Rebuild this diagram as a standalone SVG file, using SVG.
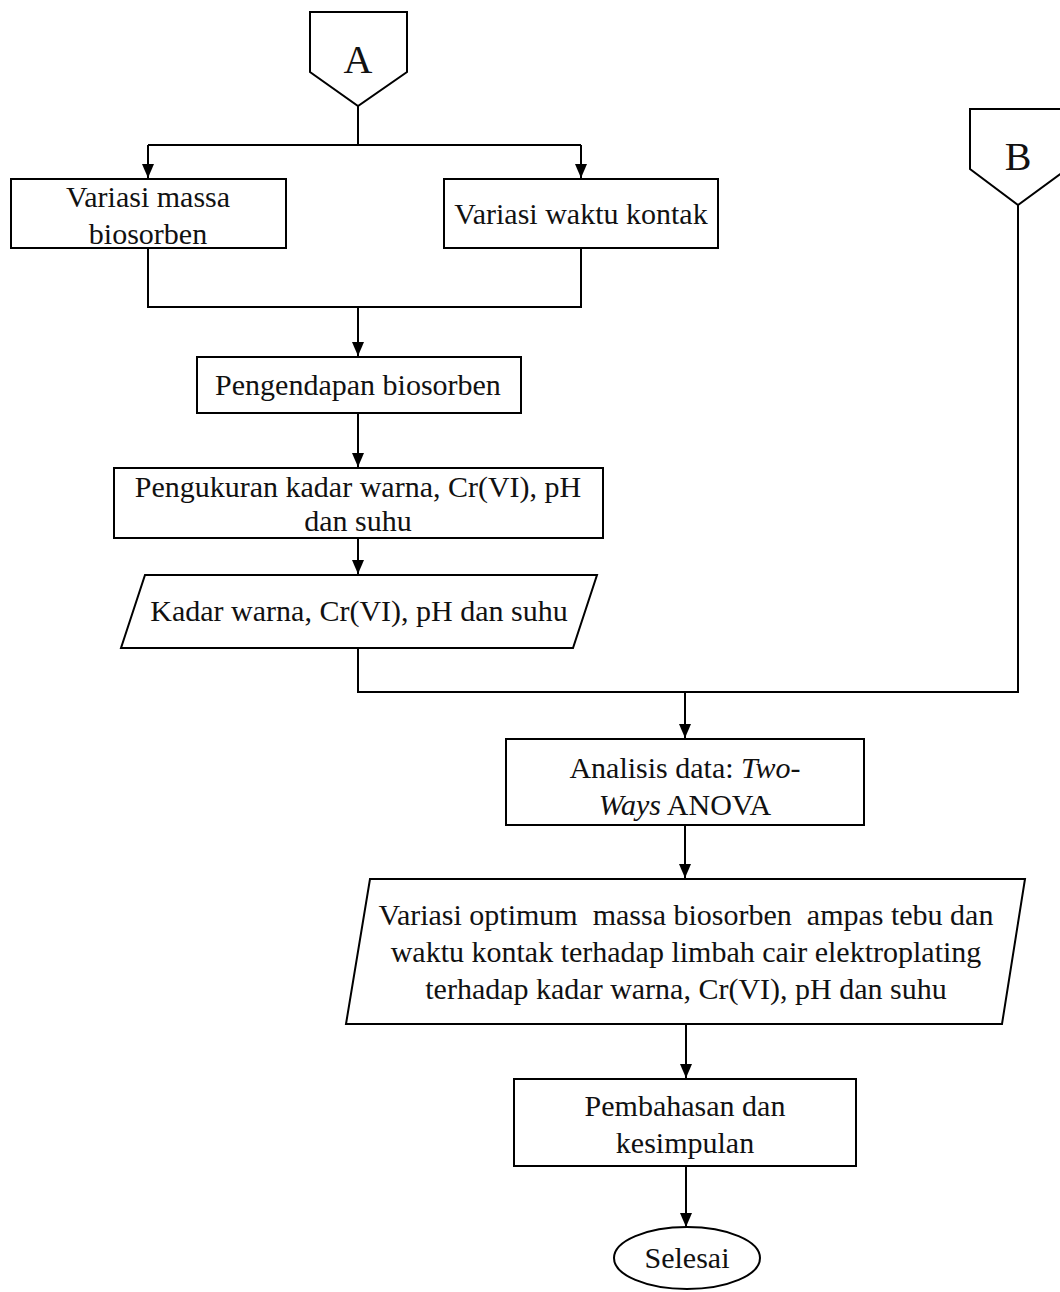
<svg xmlns="http://www.w3.org/2000/svg" width="1060" height="1292" viewBox="0 0 1060 1292">
<style>
.s{fill:#fff;stroke:#000;stroke-width:2}
.c{fill:none;stroke:#000;stroke-width:2}
text{font-family:"Liberation Serif","Times New Roman",serif;font-size:30px;fill:#111;text-anchor:middle}
.big{font-size:40px}
</style>
<defs>
<marker id="ah" viewBox="0 0 14 12" refX="14" refY="6" markerWidth="14" markerHeight="12" markerUnits="userSpaceOnUse" orient="auto">
<path d="M0,0 L14,6 L0,12 Z" fill="#000"/>
</marker>
</defs>
<rect width="1060" height="1292" fill="#fff"/>
<g id="connectors">
<path class="c" d="M358,106 V145"/>
<path class="c" d="M148,145 H581"/>
<path class="c" d="M148,145 V178" marker-end="url(#ah)"/>
<path class="c" d="M581,145 V178" marker-end="url(#ah)"/>
<path class="c" d="M148,248 V307 H581 V248"/>
<path class="c" d="M358,307 V356" marker-end="url(#ah)"/>
<path class="c" d="M358,413 V467" marker-end="url(#ah)"/>
<path class="c" d="M358,538 V574" marker-end="url(#ah)"/>
<path class="c" d="M358,648 V692 H1018 V205"/>
<path class="c" d="M685,692 V738" marker-end="url(#ah)"/>
<path class="c" d="M685,825 V878" marker-end="url(#ah)"/>
<path class="c" d="M686,1024 V1078" marker-end="url(#ah)"/>
<path class="c" d="M686,1166 V1227" marker-end="url(#ah)"/>
</g>
<g id="nodeA">
<path class="s" d="M310,12 H407 V72 L358,106 L310,72 Z"/>
<text class="big" x="358" y="73">A</text>
</g>
<g id="nodeB">
<path class="s" d="M970,109 H1067 V169 L1018,205 L970,169 Z"/>
<text class="big" x="1018" y="170">B</text>
</g>
<g id="massa">
<rect class="s" x="11" y="179" width="275" height="69"/>
<text x="148" y="207">Variasi massa</text>
<text x="148" y="244">biosorben</text>
</g>
<g id="waktu">
<rect class="s" x="444" y="179" width="274" height="69"/>
<text x="581" y="224">Variasi waktu kontak</text>
</g>
<g id="pengendapan">
<rect class="s" x="197" y="357" width="324" height="56"/>
<text x="358" y="395">Pengendapan biosorben</text>
</g>
<g id="pengukuran">
<rect class="s" x="114" y="468" width="489" height="70"/>
<text x="358" y="497">Pengukuran kadar warna, Cr(VI), pH</text>
<text x="358" y="531">dan suhu</text>
</g>
<g id="kadar">
<path class="s" d="M145,575 H597 L573,648 H121 Z"/>
<text x="359" y="621">Kadar warna, Cr(VI), pH dan suhu</text>
</g>
<g id="analisis">
<rect class="s" x="506" y="739" width="358" height="86"/>
<text x="685" y="778">Analisis data: <tspan font-style="italic">Two-</tspan></text>
<text x="685" y="815"><tspan font-style="italic">Ways</tspan> ANOVA</text>
</g>
<g id="optimum">
<path class="s" d="M370,879 H1025 L1002,1024 H346 Z"/>
<text x="686" y="925" xml:space="preserve">Variasi optimum  massa biosorben  ampas tebu dan</text>
<text x="686" y="962">waktu kontak terhadap limbah cair elektroplating</text>
<text x="686" y="999">terhadap kadar warna, Cr(VI), pH dan suhu</text>
</g>
<g id="pembahasan">
<rect class="s" x="514" y="1079" width="342" height="87"/>
<text x="685" y="1116">Pembahasan dan</text>
<text x="685" y="1153">kesimpulan</text>
</g>
<g id="selesai">
<ellipse class="s" cx="687" cy="1258" rx="73" ry="31"/>
<text x="687" y="1268">Selesai</text>
</g>
</svg>
